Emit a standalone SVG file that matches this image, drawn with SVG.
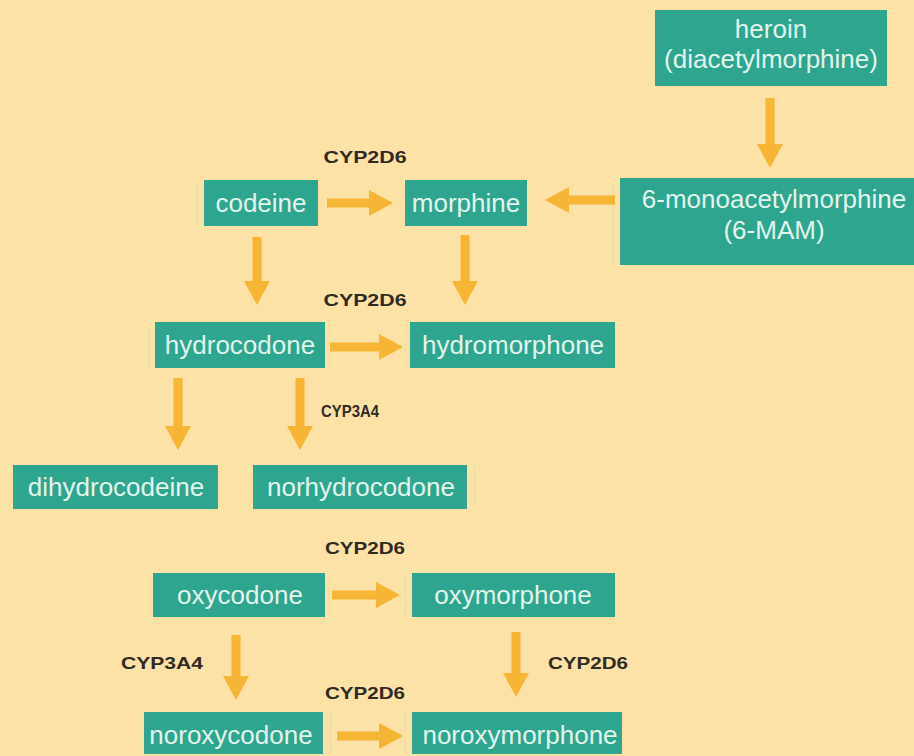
<svg xmlns="http://www.w3.org/2000/svg" width="914" height="756" viewBox="0 0 914 756">
  <style>
    .box rect { fill: #2ea58f; }
    .box text { font-family: "Liberation Sans", Arial, sans-serif; font-size: 26px; fill: #e2f5ec; text-anchor: middle; }
    .enz { font-family: "Liberation Sans", Arial, sans-serif; font-size: 17px; font-weight: bold; fill: #2f2a22; text-anchor: middle; }
    .arrow { stroke: #f6b535; stroke-width: 9; fill: none; marker-end: url(#head); }
  </style>
  <defs>
    <marker id="head" markerUnits="userSpaceOnUse" viewBox="0 0 24 26" refX="1" refY="13" markerWidth="24" markerHeight="26" orient="auto">
      <path d="M0,0 L24,13 L0,26 z" fill="#f6b535"/>
    </marker>
  </defs>

  <!-- background -->
  <rect x="0" y="0" width="914" height="756" fill="#fce2a6"/>

  <!-- connectors -->
  <g id="connectors">
    <line class="arrow" x1="770" y1="98" x2="770" y2="145"/>
    <line class="arrow" x1="327" y1="203" x2="370" y2="203"/>
    <line class="arrow" x1="615" y1="200" x2="568" y2="200"/>
    <line class="arrow" x1="257" y1="237" x2="257" y2="282"/>
    <line class="arrow" x1="465" y1="235" x2="465" y2="282"/>
    <line class="arrow" x1="330" y1="347" x2="380" y2="347"/>
    <line class="arrow" x1="178" y1="378" x2="178" y2="427"/>
    <line class="arrow" x1="300" y1="378" x2="300" y2="427"/>
    <line class="arrow" x1="332" y1="595" x2="377" y2="595"/>
    <line class="arrow" x1="236" y1="635" x2="236" y2="677"/>
    <line class="arrow" x1="516" y1="632" x2="516" y2="674"/>
    <line class="arrow" x1="337" y1="736" x2="380" y2="736"/>
  </g>

  <!-- enzyme labels -->
  <g id="enzymes">
    <text class="enz" x="365" y="163" textLength="83" lengthAdjust="spacingAndGlyphs">CYP2D6</text>
    <text class="enz" x="365" y="306" textLength="83" lengthAdjust="spacingAndGlyphs">CYP2D6</text>
    <text class="enz" x="350" y="417" textLength="58" lengthAdjust="spacingAndGlyphs">CYP3A4</text>
    <text class="enz" x="365" y="554" textLength="80" lengthAdjust="spacingAndGlyphs">CYP2D6</text>
    <text class="enz" x="162" y="669" textLength="82" lengthAdjust="spacingAndGlyphs">CYP3A4</text>
    <text class="enz" x="588" y="669" textLength="80" lengthAdjust="spacingAndGlyphs">CYP2D6</text>
    <text class="enz" x="365" y="699" textLength="80" lengthAdjust="spacingAndGlyphs">CYP2D6</text>
  </g>

  <!-- compounds -->
  <g id="heroin" class="box">
    <rect x="655" y="10" width="232" height="76"/>
    <text x="771" y="38">heroin</text>
    <text x="771" y="68">(diacetylmorphine)</text>
  </g>
  <g id="mam" class="box">
    <rect x="620" y="178" width="294" height="87"/>
    <text x="774" y="208">6-monoacetylmorphine</text>
    <text x="774" y="239">(6-MAM)</text>
  </g>
  <g id="codeine" class="box">
    <rect x="204" y="180" width="114" height="46"/>
    <text x="261" y="212">codeine</text>
  </g>
  <g id="morphine" class="box">
    <rect x="405" y="180" width="122" height="46"/>
    <text x="466" y="212">morphine</text>
  </g>
  <g id="hydrocodone" class="box">
    <rect x="155" y="322" width="170" height="46"/>
    <text x="240" y="354">hydrocodone</text>
  </g>
  <g id="hydromorphone" class="box">
    <rect x="410" y="322" width="205" height="46"/>
    <text x="513" y="354">hydromorphone</text>
  </g>
  <g id="dihydrocodeine" class="box">
    <rect x="13" y="465" width="205" height="44"/>
    <text x="116" y="496">dihydrocodeine</text>
  </g>
  <g id="norhydrocodone" class="box">
    <rect x="253" y="465" width="214" height="44"/>
    <text x="361" y="496">norhydrocodone</text>
  </g>
  <g id="oxycodone" class="box">
    <rect x="153" y="573" width="172" height="44"/>
    <text x="240" y="604">oxycodone</text>
  </g>
  <g id="oxymorphone" class="box">
    <rect x="412" y="573" width="203" height="44"/>
    <text x="513" y="604">oxymorphone</text>
  </g>
  <g id="noroxycodone" class="box">
    <rect x="144" y="712" width="179" height="42"/>
    <text x="231" y="744">noroxycodone</text>
  </g>
  <g id="noroxymorphone" class="box">
    <rect x="412" y="712" width="210" height="42"/>
    <text x="520" y="744">noroxymorphone</text>
  </g>
</svg>
